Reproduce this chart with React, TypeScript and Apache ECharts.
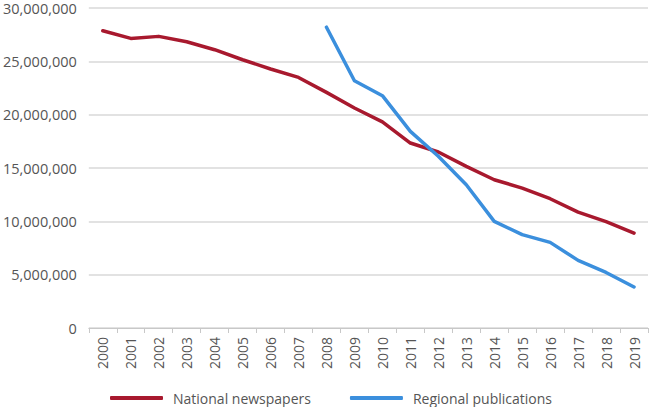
import React, { useEffect, useRef } from "react";
import * as echarts from "echarts";

const years = [
  "2000", "2001", "2002", "2003", "2004", "2005", "2006", "2007", "2008", "2009",
  "2010", "2011", "2012", "2013", "2014", "2015", "2016", "2017", "2018", "2019",
];

const nationalNewspapers = [
  27870000, 27150000, 27340000, 26840000, 26090000, 25150000, 24280000, 23490000,
  22090000, 20630000, 19330000, 17340000, 16500000, 15150000, 13900000, 13120000,
  12120000, 10870000, 9970000, 8900000,
];

const regionalPublications = [
  null, null, null, null, null, null, null, null,
  28200000, 23180000, 21780000, 18430000, 16100000, 13430000, 10000000, 8750000,
  8030000, 6340000, 5210000, 3840000,
];

const FONT = "'Open Sans', sans-serif";

export default function App() {
  const ref = useRef<HTMLDivElement>(null);

  useEffect(() => {
    if (!ref.current) return;
    const chart = echarts.init(ref.current, undefined, { renderer: "svg" });
    chart.setOption({
      animation: false,
      grid: { left: 88, right: 2, top: 8, bottom: 79, containLabel: false },
      legend: {
        top: 391,
        left: 110,
        itemWidth: 53,
        itemHeight: 4,
        itemGap: 39,
        padding: 0,
        icon: "roundRect",
        textStyle: {
          fontFamily: FONT,
          fontSize: 14,
          color: "#555555",
          padding: [0, 0, 0, 5],
        },
        data: ["National newspapers", "Regional publications"],
      },
      xAxis: {
        type: "category",
        data: years,
        boundaryGap: true,
        axisLine: { lineStyle: { color: "#c8c8c8", width: 1 } },
        axisTick: { show: true, length: 5, lineStyle: { color: "#c8c8c8" } },
        axisLabel: {
          rotate: 90,
          interval: 0,
          margin: 9,
          fontFamily: FONT,
          fontSize: 14,
          color: "#555555",
        },
      },
      yAxis: {
        type: "value",
        min: 0,
        max: 30000000,
        interval: 5000000,
        axisLine: { show: false },
        axisTick: { show: false },
        splitLine: { lineStyle: { color: "#d9d9d9", width: 1.5 } },
        axisLabel: {
          margin: 12,
          fontFamily: FONT,
          fontSize: 14.5,
          color: "#555555",
          formatter: (v: number) => v.toLocaleString("en-US"),
        },
      },
      series: [
        {
          name: "National newspapers",
          type: "line",
          data: nationalNewspapers,
          symbol: "none",
          itemStyle: { color: "#a8192e" },
          lineStyle: { color: "#a8192e", width: 3.5, cap: "round", join: "round" },
        },
        {
          name: "Regional publications",
          type: "line",
          data: regionalPublications,
          symbol: "none",
          connectNulls: false,
          itemStyle: { color: "#3b8fdd" },
          lineStyle: { color: "#3b8fdd", width: 3.5, cap: "round", join: "round" },
        },
      ],
    });
    return () => chart.dispose();
  }, []);

  return (
    <div
      ref={ref}
      style={{ position: "absolute", left: 0, top: 0, width: 650, height: 407 }}
    />
  );
}
